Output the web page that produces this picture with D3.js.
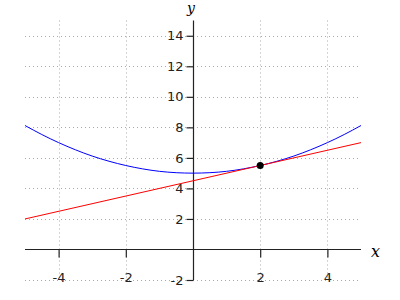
<!DOCTYPE html>
<html>
<head>
<meta charset="utf-8">
<script src="https://cdn.jsdelivr.net/npm/d3@7"></script>
<style>
  body { margin: 0; background: #fff; }
  text { font-family: "DejaVu Sans", sans-serif; }
</style>
</head>
<body>
<svg id="chart" width="400" height="300"></svg>
<script>
// values
var curveX = [-5, -4.5, -4, -3.5, -3, -2.5, -2, -1.5, -1, -0.5, 0, 0.5, 1, 1.5, 2, 2.5, 3, 3.5, 4, 4.5, 5];
var curveY = [8.12, 7.53, 7.0, 6.53, 6.12, 5.78, 5.5, 5.28, 5.12, 5.03, 5.0, 5.03, 5.12, 5.28, 5.5, 5.78, 6.12, 6.53, 7.0, 7.53, 8.12];
var tangentX = [-5, 5];
var tangentY = [2, 7];
var pointX = [2];
var pointY = [5.5];
var xTicks = [-4, -2, 2, 4];
var yTicks = [-2, 2, 4, 6, 8, 10, 12, 14];

var svg = d3.select("#chart");
var x = d3.scaleLinear().domain([-5, 5]).range([25, 361]);
var y = d3.scaleLinear().domain([-2, 15]).range([280, 20.5]);

// dotted grid
var grid = svg.append("g").attr("stroke", "#aaa").attr("stroke-dasharray", "1,3").attr("stroke-width", 1);
grid.selectAll("line.v").data(xTicks).enter().append("line")
    .attr("x1", function(d) { return Math.round(x(d)) + 0.5; })
    .attr("x2", function(d) { return Math.round(x(d)) + 0.5; })
    .attr("y1", y(15)).attr("y2", y(-2));
grid.selectAll("line.h").data(yTicks).enter().append("line")
    .attr("y1", function(d) { return Math.round(y(d)) + 0.5; })
    .attr("y2", function(d) { return Math.round(y(d)) + 0.5; })
    .attr("x1", x(-5)).attr("x2", x(5));

// axes through the origin
var xAxis = d3.axisBottom(x).tickValues(xTicks).tickSize(8).tickPadding(10).tickFormat(String);
var yAxis = d3.axisLeft(y).tickValues(yTicks).tickSize(7).tickPadding(3).tickFormat(String);

var gx = svg.append("g").attr("transform", "translate(0," + (Math.round(y(0)) + 0.5) + ")").call(xAxis);
var gy = svg.append("g").attr("transform", "translate(" + (Math.round(x(0)) + 0.5) + ",0)").call(yAxis);
[gx, gy].forEach(function(g) {
    g.select(".domain").attr("d", null);
    g.selectAll(".tick line").attr("stroke", "#222").attr("stroke-width", 1.2);
    g.selectAll(".tick text").attr("font-size", 13).attr("fill", "#222");
});
gx.selectAll(".tick text").attr("dy", "1.15em");
svg.append("line").attr("x1", x(-5)).attr("x2", x(5))
    .attr("y1", Math.round(y(0)) + 0.5).attr("y2", Math.round(y(0)) + 0.5)
    .attr("stroke", "#222").attr("stroke-width", 1.2);
svg.append("line").attr("x1", Math.round(x(0)) + 0.5).attr("x2", Math.round(x(0)) + 0.5)
    .attr("y1", y(15)).attr("y2", y(-2))
    .attr("stroke", "#222").attr("stroke-width", 1.2);

svg.append("text").text("x").attr("x", 371).attr("y", 257)
    .style("font-family", "'DejaVu Serif', serif").style("font-style", "italic").attr("font-size", 16);
svg.append("text").text("y").attr("x", 187).attr("y", 13)
    .style("font-family", "'DejaVu Serif', serif").style("font-style", "italic").attr("font-size", 14);

// curves
var curvePts = curveX.map(function(d, i) { return [d, curveY[i]]; });
var tangentPts = tangentX.map(function(d, i) { return [d, tangentY[i]]; });
var line = d3.line().x(function(d) { return x(d[0]); }).y(function(d) { return y(d[1]); });

svg.append("path").datum(curvePts).attr("fill", "none").attr("stroke", "blue")
    .attr("stroke-width", 1).attr("d", line.curve(d3.curveNatural));
svg.append("path").datum(tangentPts).attr("fill", "none").attr("stroke", "red")
    .attr("stroke-width", 1).attr("d", line.curve(d3.curveLinear));

svg.selectAll("circle.pt").data(pointX).enter().append("circle")
    .attr("cx", function(d) { return x(d); })
    .attr("cy", function(d, i) { return y(pointY[i]); })
    .attr("r", 3.5).attr("fill", "black");
</script>
</body>
</html>
